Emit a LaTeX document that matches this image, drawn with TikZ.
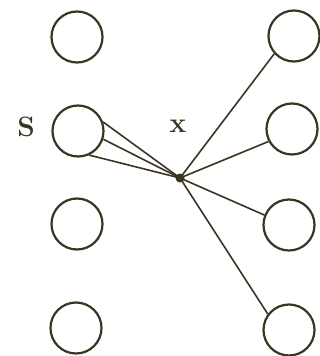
\documentclass[tikz,border=0pt]{standalone}
\usepackage{xcolor}
\usepackage{tikz}
\usetikzlibrary{positioning}
\usetikzlibrary{calc}
\definecolor{ink}{RGB}{58,52,34}

\begin{document}
\begin{tikzpicture}[x=1pt,y=-1pt,
  ring/.style={draw=ink,circle,line width=2.2pt,minimum size=51pt,inner sep=0pt},
  wire/.style={draw=ink,line width=1.6pt},
  hub/.style={fill=ink,circle,minimum size=9pt,inner sep=0pt},
  tag/.style={text=ink,font=\fontsize{28}{32}\selectfont\bfseries}]
\useasboundingbox (0,0) rectangle (320,356);

%Shape: Circle (left column)
\node [ring] (l1) at (77,37) {};
\node [ring] (l2) at (78,131) {};
\node [ring] (l3) at (77,224) {};
\node [ring] (l4) at (76,328) {};
%Shape: Circle (right column)
\node [ring] (r1) at (294,36) {};
\node [ring] (r2) at (292,129) {};
\node [ring] (r3) at (289,225) {};
\node [ring] (r4) at (289,330) {};
%Shape: Dot
\node [hub] (hub) at (180,178) {};

%Straight Lines
\draw [wire] (hub.center) -- (r1.222);
\draw [wire] (hub.center) -- (r2.208);
\draw [wire] (hub.center) -- (r3.158);
\draw [wire] (hub.center) -- (r4.143);
\draw [wire] (hub.center) -- (l2.20);
\draw [wire] (hub.center) -- (l2.342);
\draw [wire] (hub.center) -- (l2.295);

% Text Node
\node [tag] (s) at (26,127) {S};
% Text Node
\node [tag] (x) at (178,126) {x};

\end{tikzpicture}
\end{document}
